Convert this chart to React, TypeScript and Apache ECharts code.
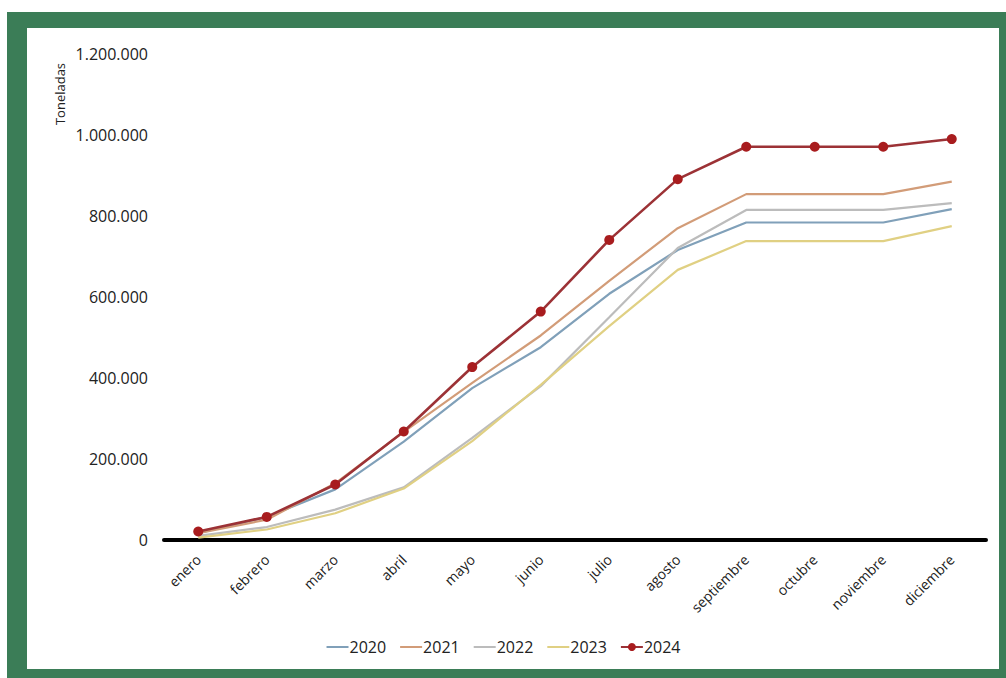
import React, { useEffect, useRef } from "react";
import * as echarts from "echarts";

const months = ["enero", "febrero", "marzo", "abril", "mayo", "junio", "julio", "agosto", "septiembre", "octubre", "noviembre", "diciembre"];
const years = ["2020", "2021", "2022", "2023", "2024"];
const s2020 = [17000, 57000, 125000, 243000, 375000, 476000, 608000, 716000, 784000, 784000, 784000, 817000];
const s2021 = [17000, 50000, 140000, 267000, 388000, 505000, 640000, 770000, 854000, 854000, 854000, 885000];
const s2022 = [10000, 32000, 75000, 130000, 252000, 380000, 550000, 721000, 815000, 815000, 815000, 832000];
const s2023 = [6000, 26000, 66000, 127000, 244000, 383000, 528000, 667000, 738000, 738000, 738000, 775000];
const s2024 = [21000, 57000, 137000, 268000, 427000, 564000, 741000, 891000, 971000, 971000, 971000, 990000];
const seriesData = [s2020, s2021, s2022, s2023, s2024];
const colors = ["#80a0b9", "#d29c78", "#bcbcbc", "#e0d083", "#9c3236"];
const yTicks = { min: 0, max: 1200000, interval: 200000 };

const fmt = (v: number) => String(v).replace(/\B(?=(\d{3})+(?!\d))/g, ".");

export default function App() {
  const ref = useRef<HTMLDivElement>(null);
  useEffect(() => {
    document.body.style.margin = "0";
    if (!ref.current) return;
    const chart = echarts.init(ref.current, null, { renderer: "svg" });
    const font = "'Open Sans', 'Noto Sans', sans-serif";
    chart.setOption({
      animation: false,
      textStyle: { fontFamily: font },
      grid: { left: 164, right: 20, top: 54, bottom: 138, containLabel: false },
      legend: {
        top: 634,
        left: "center",
        itemWidth: 22,
        itemHeight: 10,
        itemGap: 13,
        textStyle: { fontSize: 16, color: "#222", fontFamily: font, padding: [0, 0, 0, -4] },
        data: years.map((y) =>
          y === "2024" ? { name: y } : { name: y, itemStyle: { opacity: 0 } }
        ),
      },
      xAxis: {
        type: "category",
        data: months,
        boundaryGap: true,
        axisLine: { lineStyle: { color: "#000", width: 4 } },
        axisTick: { show: false },
        axisLabel: { rotate: 45, fontSize: 14, color: "#222", margin: 17, interval: 0, fontFamily: font },
      },
      yAxis: {
        type: "value",
        min: yTicks.min,
        max: yTicks.max,
        interval: yTicks.interval,
        splitLine: { show: false },
        axisLine: { show: false },
        axisTick: { show: false },
        axisLabel: { fontSize: 16, color: "#222", margin: 16, formatter: (v: number) => fmt(v), fontFamily: font },
      },
      graphic: [
        {
          type: "text",
          x: 60,
          y: 94,
          rotation: Math.PI / 2,
          style: { text: "Toneladas", fontSize: 13, fill: "#222", align: "center", verticalAlign: "middle", fontFamily: font },
        },
      ],
      series: years.map((y, i) => {
        const is24 = y === "2024";
        return {
          name: y,
          type: "line",
          data: seriesData[i],
          color: colors[i],
          symbol: is24 ? "circle" : "none",
          symbolSize: 10,
          showSymbol: is24,
          itemStyle: { color: is24 ? "#a81c1e" : colors[i] },
          lineStyle: { width: is24 ? 2.6 : 2.2, color: colors[i] },
          z: is24 ? 10 : 2 + i,
        };
      }),
    });
    return () => chart.dispose();
  }, []);
  return (
    <div style={{ position: "relative", width: 1006, height: 678, background: "#fff", overflow: "hidden" }}>
      <div style={{ position: "absolute", left: 7, top: 12, width: 999, height: 666, background: "#3b7d57" }} />
      <div style={{ position: "absolute", left: 27, top: 28, width: 972, height: 641, background: "#fff" }} />
      <div ref={ref} style={{ position: "absolute", left: 0, top: 0, width: 1006, height: 678 }} />
    </div>
  );
}
